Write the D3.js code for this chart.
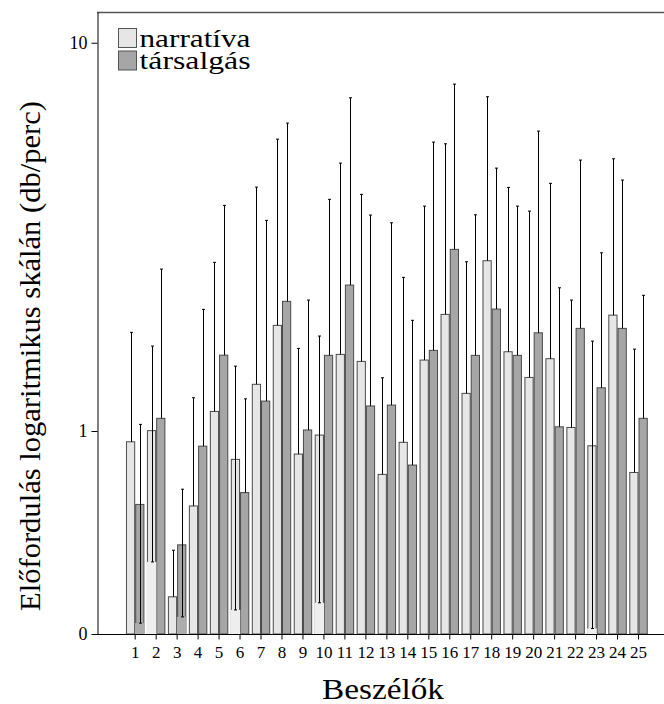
<!DOCTYPE html>
<html>
<head>
<meta charset="utf-8">
<script src="https://cdn.jsdelivr.net/npm/d3@7"></script>
<style>
  body { margin: 0; background: #fff; }
  svg { display: block; }
  text { font-family: "Liberation Serif", "Times New Roman", serif; fill: #000; }
</style>
</head>
<body>
<svg id="chart" width="664" height="704"></svg>
<script>
// Speakers on the x axis
const speakers = ["1","2","3","4","5","6","7","8","9","10","11","12","13","14","15","16","17","18","19","20","21","22","23","24","25"];
const seriesNames = ["narratíva", "társalgás"];

// Mean occurrence per minute, narrative speech, with error bar ends
const narrMean  = [0.938,1.002,0.374,0.641,1.123,0.845,1.319,1.871,0.872,0.976,1.575,1.511,0.773,0.935,1.523,1.997,1.250,2.745,1.600,1.374,1.535,1.021,0.916,1.988,0.782];
const narrUpper = [1.795,1.655,0.493,1.218,2.719,1.469,4.248,5.646,1.632,1.756,4.898,4.069,1.371,2.487,3.795,5.492,2.728,7.259,4.240,3.685,4.343,2.174,1.704,5.025,1.625];
const narrLower = [null,0.460,null,null,null,0.346,null,null,null,0.361,null,null,null,null,null,null,null,null,null,null,null,null,0.310,null,null];

// Mean occurrence per minute, conversation, with error bar ends
const tarsMean  = [0.647,1.078,0.509,0.914,1.568,0.694,1.194,2.157,1.006,1.566,2.376,1.160,1.166,0.817,1.613,2.936,1.566,2.061,1.566,1.790,1.025,1.838,1.292,1.838,1.078];
const tarsUpper = [1.040,2.612,0.708,2.057,3.811,1.210,3.487,6.210,2.174,3.950,7.215,3.599,3.438,1.928,5.548,7.825,3.605,4.754,3.795,5.922,2.338,4.986,2.877,4.429,2.236];
const tarsLower = [0.320,null,0.332,null,null,null,null,null,null,null,null,null,null,null,null,null,null,null,null,null,null,null,null,null,null];

// Log axis from 0.3 to 12; the axis origin is labelled "0"
const yDomain = [0.3, 12];
const yTickValues = [0.3, 1, 10];
const yTickLabels = ["0", "1", "10"];

const colors = { "narratíva": "#e6e6e6", "társalgás": "#a6a6a6" };

const svg = d3.select("#chart");
const plotLeft = 97, plotRight = 664, plotTop = 12, plotBottom = 634;

const y = d3.scaleLog().domain(yDomain).range([plotBottom, plotTop]);
const x = d3.scaleBand().domain(speakers).range([124.7, 649.0]).paddingInner(0.12).paddingOuter(0.06);
const xs = d3.scaleBand().domain(seriesNames).range([0, x.bandwidth()]);

const rows = [];
speakers.forEach((s, i) => {
  rows.push({ speaker: s, series: "narratíva", mean: narrMean[i], upper: narrUpper[i], lower: narrLower[i] });
  rows.push({ speaker: s, series: "társalgás", mean: tarsMean[i], upper: tarsUpper[i], lower: tarsLower[i] });
});

// Bars
svg.append("g").selectAll("rect").data(rows).join("rect")
  .attr("x", d => x(d.speaker) + xs(d.series) + 0.5)
  .attr("y", d => y(d.mean))
  .attr("width", xs.bandwidth() - 1)
  .attr("height", d => y(yDomain[0]) - y(d.mean))
  .attr("fill", d => colors[d.series])
  .attr("stroke", "#4a4a4a")
  .attr("stroke-width", 1);

// Below a lower whisker the bar outline fades out
svg.append("g").selectAll("rect").data(rows.filter(d => d.lower != null)).join("rect")
  .attr("x", d => x(d.speaker) + xs(d.series) - 0.2)
  .attr("y", d => y(d.lower))
  .attr("width", xs.bandwidth() + 0.4)
  .attr("height", d => y(yDomain[0]) - y(d.lower))
  .attr("fill", d => d3.color(colors[d.series]).brighter(0.1));

// Error bars
const eb = svg.append("g").attr("stroke", "#000").attr("stroke-width", 1);
rows.forEach(d => {
  const cx = Math.round(x(d.speaker) + xs(d.series) + xs.bandwidth() / 2) + 0.5;
  const from = d.lower != null ? y(d.lower) : y(d.mean);
  eb.append("line").attr("x1", cx).attr("x2", cx).attr("y1", from).attr("y2", y(d.upper));
  eb.append("line").attr("x1", cx - 1.5).attr("x2", cx + 1.5).attr("y1", y(d.upper)).attr("y2", y(d.upper));
  if (d.lower != null) {
    eb.append("line").attr("x1", cx - 1.5).attr("x2", cx + 1.5).attr("y1", y(d.lower)).attr("y2", y(d.lower));
  }
});

// Frame
svg.append("line").attr("x1", plotLeft).attr("x2", plotRight).attr("y1", plotTop + 0.5).attr("y2", plotTop + 0.5)
  .attr("stroke", "#555").attr("stroke-width", 1.5);
svg.append("line").attr("x1", plotLeft).attr("x2", plotRight).attr("y1", plotBottom + 0.5).attr("y2", plotBottom + 0.5)
  .attr("stroke", "#000");

// Y axis
const yAxis = svg.append("g").attr("transform", `translate(${plotLeft + 0.5},0)`)
  .call(d3.axisLeft(y).tickValues(yTickValues).tickFormat((d, i) => yTickLabels[i]).tickSize(6).tickSizeOuter(0));
yAxis.selectAll("text").style("font-size", "18px").attr("dx", "-1");
yAxis.select(".domain").attr("stroke", "#000");

// X axis
const xAxis = svg.append("g").attr("transform", `translate(0,${plotBottom + 0.5})`)
  .call(d3.axisBottom(x).tickSize(5).tickSizeOuter(0));
xAxis.select(".domain").remove();
xAxis.selectAll("text").style("font-size", "17px").attr("dy", "0.9em");

// Axis titles
svg.append("text")
  .attr("transform", "translate(40,356) rotate(-90)")
  .attr("text-anchor", "middle")
  .attr("textLength", 510)
  .attr("lengthAdjust", "spacingAndGlyphs")
  .style("font-size", "29px")
  .text("Előfordulás logaritmikus skálán (db/perc)");

svg.append("text")
  .attr("x", 383).attr("y", 699)
  .attr("text-anchor", "middle")
  .attr("textLength", 122)
  .attr("lengthAdjust", "spacingAndGlyphs")
  .style("font-size", "29px")
  .text("Beszélők");

// Legend
const legendWidths = [111, 111];
const legend = svg.append("g");
seriesNames.forEach((name, i) => {
  const g = legend.append("g").attr("transform", `translate(118.5,${28.5 + i * 22.5})`);
  g.append("rect").attr("width", 18).attr("height", 19)
    .attr("fill", colors[name]).attr("stroke", "#555");
  g.append("text").attr("x", 21).attr("y", 18)
    .attr("textLength", legendWidths[i])
    .attr("lengthAdjust", "spacingAndGlyphs")
    .style("font-size", "25px").text(name);
});
</script>
</body>
</html>
